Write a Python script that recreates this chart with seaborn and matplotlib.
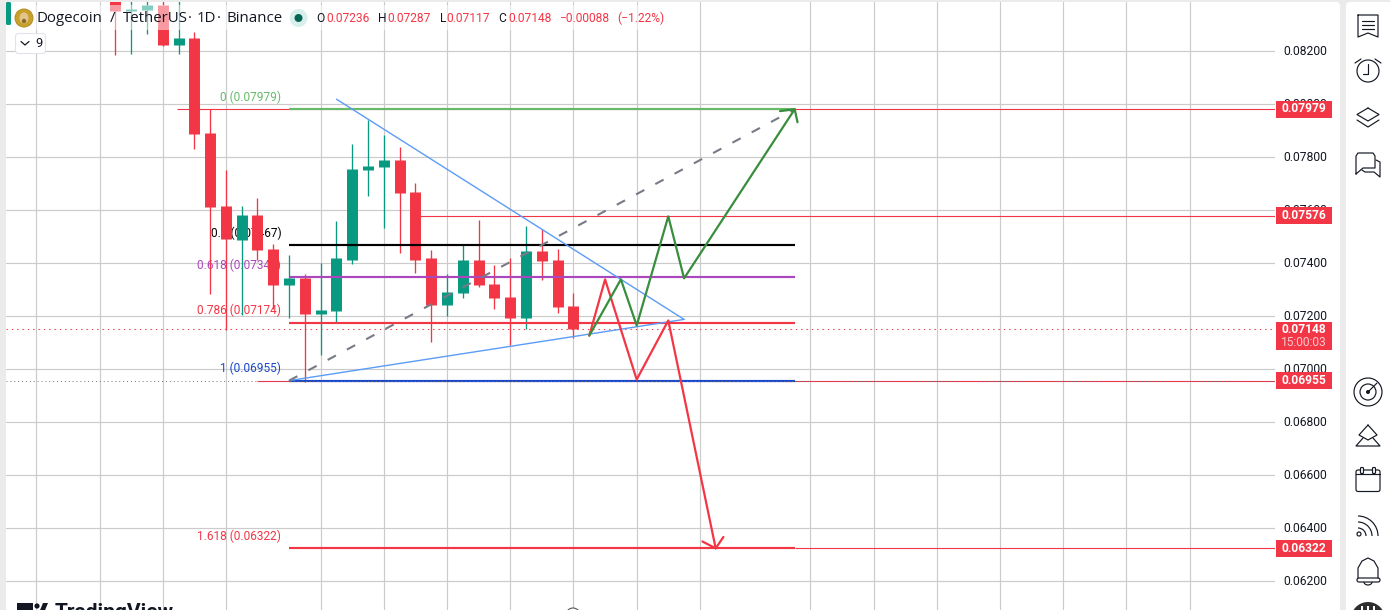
import numpy as np
import pandas as pd
import matplotlib
matplotlib.use("Agg")
import matplotlib.pyplot as plt
from matplotlib.patches import Rectangle, Circle, FancyBboxPatch, Arc, Ellipse, Polygon
from matplotlib.transforms import ScaledTranslation
import seaborn as sns

# ---- data ----
opens  = [0.08430,0.08350,0.08354,0.08373,0.08223,0.08248,0.07889,0.07613,0.07484,0.07579,
          0.07450,0.07314,0.07344,0.07206,0.07216,0.07412,0.07749,0.07760,0.07787,0.07666,
          0.07416,0.07239,0.07284,0.07409,0.07318,0.07269,0.07193,0.07443,0.07409,0.07236]
highs  = [0.08448,0.08422,0.08410,0.08407,0.08410,0.08271,0.07980,0.07749,0.07613,0.07643,
          0.07469,0.07428,0.07356,0.07397,0.07556,0.07847,0.07938,0.07881,0.07836,0.07700,
          0.07447,0.07356,0.07465,0.07560,0.07390,0.07416,0.07537,0.07526,0.07450,0.07287]
lows   = [0.08184,0.08188,0.08264,0.08218,0.08189,0.07828,0.07280,0.07145,0.07201,0.07409,
          0.07227,0.07193,0.06951,0.07050,0.07171,0.07395,0.07651,0.07530,0.07435,0.07360,
          0.07099,0.07197,0.07265,0.07307,0.07227,0.07091,0.07148,0.07333,0.07212,0.07117]
closes = [0.08351,0.08358,0.08373,0.08223,0.08248,0.07886,0.07609,0.07488,0.07579,0.07447,
          0.07314,0.07344,0.07206,0.07220,0.07416,0.07753,0.07764,0.07787,0.07662,0.07412,
          0.07239,0.07288,0.07412,0.07314,0.07265,0.07193,0.07443,0.07405,0.07231,0.07148]

price_ticks = [0.082,0.080,0.078,0.076,0.074,0.072,0.070,0.068,0.066,0.064,0.062]
grid_bars = [-5,-1,3,7,13,17,21,25,29,33,37,44,48,52,56,60,64,68]

fib_levels = [0.07979,0.07467,0.07345,0.07174,0.06955,0.06322]
fib_names  = ["0","0.5","0.618","0.786","1","1.618"]
fib_colors = ["#66bb6a","#000000","#ab47bc","#f23645","#1848cc","#f23645"]
fib_start, fib_end = 11, 43

level_resist = 0.07576
last_price = 0.07148

tri_upper_x = [14, 36];   tri_upper_y = [0.08017, 0.07186]
tri_lower_x = [11, 36];   tri_lower_y = [0.06955, 0.07186]
dash_x = [11, 43];        dash_y = [0.06955, 0.07979]
green_x = [30, 32, 33, 35, 36, 43]
green_y = [0.07125, 0.07337, 0.07163, 0.07575, 0.07341, 0.07979]
green_head_x = [42.07, 43, 43.18]; green_head_y = [0.07972, 0.07979, 0.07930]
red_x = [30, 31, 33, 35, 38]
red_y = [0.07125, 0.07337, 0.06959, 0.07182, 0.06322]
red_head_x = [37.16, 38, 38.49]; red_head_y = [0.06348, 0.06322, 0.06365]

RED, GREEN = "#f23645", "#089981"
W, H = 1390, 610
TXT = "#131722"
Y_LIMITS = (0.060894, 0.083838)
X_LIMITS = (-6.918, 73.40)

sns.set_theme(style="white")
plt.rcParams["font.family"] = ["Roboto", "DejaVu Sans"]

fig = plt.figure(figsize=(W/100, H/100), dpi=100, facecolor="#ebebeb")

def pixel_axes(z):
    a = fig.add_axes([0, 0, 1, 1], zorder=z)
    a.set_xlim(0, W); a.set_ylim(H, 0); a.axis("off")
    a.patch.set_alpha(0)
    return a

bg = pixel_axes(0)
bg.add_patch(FancyBboxPatch((6, 2), 1334, 640, boxstyle="round,pad=0,rounding_size=4", fc="white", ec="none"))
bg.add_patch(FancyBboxPatch((1346, 2), 60, 640, boxstyle="round,pad=0,rounding_size=4", fc="white", ec="none"))

# main price axes
ax = fig.add_axes([6/W, 0, (1275-6)/W, 608/H], zorder=1)
ax.patch.set_alpha(0)

bars = np.arange(len(opens))
o, h, l, c = map(np.array, (opens, highs, lows, closes))
direction = np.where(c >= o, "up", "down")
wicks = pd.DataFrame({"bar": np.repeat(bars, 2),
                      "price": np.column_stack([l, h]).ravel(),
                      "dir": np.repeat(direction, 2)})
bodies = pd.DataFrame({"bar": np.repeat(bars, 2),
                       "price": np.column_stack([o, c]).ravel(),
                       "dir": np.repeat(direction, 2)})
pal = {"up": GREEN, "down": RED}
sns.lineplot(data=wicks, x="bar", y="price", hue="dir", units="bar", estimator=None, palette=pal,
             legend=False, ax=ax, lw=0.95, zorder=3, solid_capstyle="butt")
sns.lineplot(data=bodies, x="bar", y="price", hue="dir", units="bar", estimator=None, palette=pal,
             legend=False, ax=ax, lw=7.9, zorder=3, solid_capstyle="butt")

ax.set_xticks(grid_bars); ax.set_xticklabels([])
ax.set_yticks(price_ticks)
ax.set_yticklabels([f"{p:.5f}" for p in price_ticks], fontsize=8.7, color=TXT)
ax.yaxis.tick_right()
ax.tick_params(axis="y", length=0, pad=6.3)
ax.tick_params(axis="x", length=0)
nudge = ScaledTranslation(0, 0.9/100, fig.dpi_scale_trans)
for lbl in ax.get_yticklabels():
    lbl.set_transform(lbl.get_transform() + nudge)
ax.grid(True, color="#cbcbcb", lw=0.85)
ax.set_axisbelow(True)
for s in ax.spines.values():
    s.set_visible(False)

# thin rays
ax.hlines(fib_levels[0], 3.9, 73.4, color=RED, lw=0.8, zorder=2)
ax.hlines(level_resist, 19, 73.4, color=RED, lw=0.8, zorder=2)
ax.hlines(fib_levels[4], 9, 73.4, color=RED, lw=0.8, zorder=2)
ax.hlines(fib_levels[5], fib_end, 73.4, color=RED, lw=0.8, zorder=2)
ax.hlines(last_price, -6.9, 73.4, color=RED, lw=0.8, linestyles=(0, (1.2, 3.6)), zorder=2)

# fib levels
for lev, name, col in zip(fib_levels, fib_names, fib_colors):
    ax.hlines(lev, fib_start, fib_end, color=col, lw=1.55, zorder=4)
    ax.annotate(f"{name} ({lev:.5f})", (fib_start, lev), xytext=(-5.6, 8.6), textcoords="offset points",
                ha="right", va="center", fontsize=8.6, color=col, zorder=2)
ax.hlines(fib_levels[4], -6.9, 73.4, color="#6a6f7c", lw=0.7, linestyles=(0, (1, 3)), zorder=5)

# drawings
def path(xs, ys, col, lw, **kw):
    sns.lineplot(x=xs, y=ys, color=col, lw=lw, ax=ax, sort=False, estimator=None, legend=False, zorder=5, **kw)

path(tri_upper_x, tri_upper_y, "#5b9cf6", 1.0)
path(tri_lower_x, tri_lower_y, "#5b9cf6", 1.0)
path(dash_x, dash_y, "#787b86", 1.5, linestyle=(0, (4.5, 6)))
path(red_x, red_y, RED, 1.6)
path(red_head_x, red_head_y, RED, 1.6)
path(green_x, green_y, "#388e3c", 1.6)
path(green_head_x, green_head_y, "#388e3c", 1.6)
ax.set_xlim(*X_LIMITS)
ax.set_ylim(*Y_LIMITS)
ax.set_xlabel(""); ax.set_ylabel("")

# ---- chrome in pixel coordinates ----
fg = pixel_axes(5)

def T(x, y, s, px, col=TXT, **kw):
    kw.setdefault("va", "center"); kw.setdefault("ha", "left")
    fg.text(x, y, s, fontsize=px*0.72, color=col, **kw)

def L(xs, ys, col="#131722", lw=0.85):
    fg.plot(xs, ys, color=col, lw=lw, solid_capstyle="round", solid_joinstyle="round")

# header veil
fg.add_patch(Rectangle((12, 5), 683, 25, fc="white", ec="none", alpha=0.5))
fg.add_patch(FancyBboxPatch((6, 2), 5, 23, boxstyle="round,pad=0,rounding_size=1.5", fc="#089981", ec="none"))
fg.add_patch(Circle((24, 18), 9, fc="#c8a02c", ec="#b48c22", lw=0.7))
fg.add_patch(Ellipse((24, 18), 9, 11, fc="#e3c48a", ec="none"))
fg.add_patch(Circle((24, 21), 2.2, fc="#8a6a2a", ec="none"))
for x, piece in [(37, "Dogecoin"), (110, "/"), (122.5, "TetherUS"), (188, "·"),
                 (196.5, "1D"), (217, "·"), (226, "Binance")]:
    T(x, 18.5, piece, 15, family=["Open Sans", "DejaVu Sans"])
fg.add_patch(Circle((298.5, 18), 9, fc="#d9efeb", ec="none"))
fg.add_patch(Circle((298.5, 18), 4, fc="#056656", ec="none"))
for x, lab, val_x, val in [(316, "O", 326, "0.07236"), (378, "H", 387.5, "0.07287"),
                           (440, "L", 446.5, "0.07117"), (498.5, "C", 508, "0.07148")]:
    T(x, 18.5, lab, 12)
    T(val_x, 18.5, val, 12, RED)
T(559, 18.5, "−0.00088", 12, RED)
T(617, 18.5, "(−1.22%)", 12, RED)

fg.add_patch(FancyBboxPatch((15.5, 33.5), 30, 20, boxstyle="round,pad=0,rounding_size=3", fc="white", ec="#e0e3eb", lw=0.8))
L([21, 25, 29], [41.5, 45, 41.5], TXT, 0.9)
T(35, 43.5, "9", 13)

# price tags
for y0, y1, s in [(100.5, 117.5, "0.07979"), (207, 224, "0.07576"), (372, 389, "0.06955"), (540, 557, "0.06322")]:
    fg.add_patch(Rectangle((1276, y0), 56, y1-y0, fc=RED, ec="none"))
    T(1304, (y0+y1)/2, s, 12, "white", ha="center", fontweight="bold")
fg.add_patch(Rectangle((1276, 322), 56, 28, fc=RED, ec="none"))
T(1304, 329.5, "0.07148", 12, "white", ha="center", fontweight="bold")
T(1304, 343, "15:00:03", 12, "#fbc9ce", ha="center")

# TradingView mark
fg.add_patch(Rectangle((17, 603), 16, 12, fc="#131722", ec="none"))
fg.add_patch(Circle((37, 606), 2.6, fc="#131722", ec="none"))
fg.add_patch(Polygon([[38, 615], [43, 603], [48, 603], [43, 615]], fc="#131722", ec="none"))
T(55, 602.5, "TradingView", 21, "#131722", va="top", fontweight="bold")
fg.add_patch(Circle((573, 615), 7, fc="white", ec="#555555", lw=0.8))

# toolbar icons
L([1358, 1378, 1378, 1368, 1358, 1358], [15, 15, 37, 33, 37, 15])
for y in (21, 25, 29):
    L([1362, 1374], [y, y])
fg.add_patch(Circle((1368, 71), 11, fc="none", ec=TXT, lw=0.85))
L([1368.3, 1368.3, 1363.3], [64, 74, 74])
L([1355, 1361], [63, 59]); L([1375, 1381], [59, 63])
L([1368, 1379, 1368, 1357, 1368], [108, 114.5, 121, 114.5, 108])
L([1357, 1368, 1379], [120, 127, 120])
L([1356, 1356, 1358, 1373, 1375, 1375, 1363, 1356], [174, 156, 153, 153, 156, 168, 168, 174])
L([1376, 1380, 1380, 1374, 1365, 1362], [160, 162, 177, 172, 172, 170])

fg.add_patch(Circle((1368, 392), 14, fc="none", ec=TXT, lw=0.85))
fg.add_patch(Circle((1368, 392), 8, fc="none", ec=TXT, lw=0.85))
fg.add_patch(Circle((1368, 392), 2, fc=TXT, ec="none"))
L([1368, 1377], [392, 383])

L([1368, 1359, 1368, 1377, 1368], [425, 435, 440, 435, 425])
L([1363, 1356, 1380, 1373], [438, 446, 446, 438])

fg.add_patch(FancyBboxPatch((1356, 470), 24, 21.5, boxstyle="round,pad=0,rounding_size=2", fc="white", ec=TXT, lw=0.85))
L([1356, 1380], [474, 474])
for x in (1362, 1374):
    fg.add_patch(FancyBboxPatch((x-1.5, 467.5), 3, 6, boxstyle="round,pad=0,rounding_size=1", fc="white", ec=TXT, lw=0.85))

fg.add_patch(Circle((1359, 534), 2, fc="none", ec=TXT, lw=0.85))
for r in (8, 14, 20):
    fg.add_patch(Arc((1358, 536), 2*r, 2*r, theta1=270, theta2=360, ec=TXT, lw=0.85))

L([1358, 1358, 1362, 1368, 1374, 1378, 1378], [578, 568, 561, 558, 561, 568, 578])
fg.add_patch(FancyBboxPatch((1357, 578), 23, 4, boxstyle="round,pad=0,rounding_size=2", fc="white", ec=TXT, lw=0.85))
fg.add_patch(Arc((1368, 582), 8, 6, theta1=0, theta2=180, ec=TXT, lw=0.85))

fg.add_patch(Circle((1368, 619), 17, fc="#2e2e2e", ec="none"))
for x in (1362, 1368, 1374):
    fg.add_patch(Rectangle((x-1, 605.5), 2, 5, fc="white", ec="none"))

fg.set_xlim(0, W); fg.set_ylim(H, 0)
fig.savefig("out.png", dpi=100, facecolor=fig.get_facecolor())
